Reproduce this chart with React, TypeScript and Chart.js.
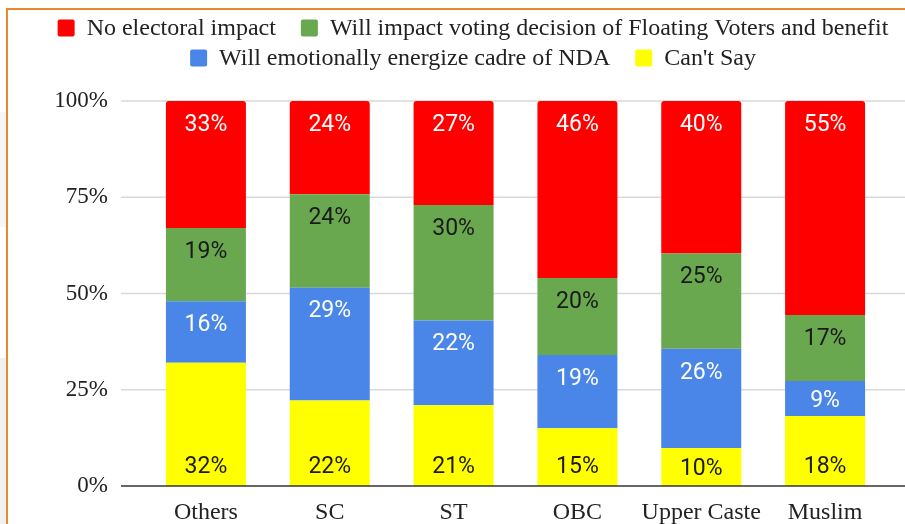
import React, { useEffect, useRef } from "react";
import { Chart, registerables } from "chart.js";
Chart.register(...registerables);

const categories = ["Others", "SC", "ST", "OBC", "Upper Caste", "Muslim"];
const cantSay = [32, 22, 21, 15, 10, 18];
const energize = [16, 29, 22, 19, 26, 9];
const impactVoting = [19, 24, 30, 20, 25, 17];
const noImpact = [33, 24, 27, 46, 40, 55];
const yTicks = [0, 25, 50, 75, 100];

const seriesNames = [
  "Can't Say",
  "Will emotionally energize cadre of NDA",
  "Will impact voting decision of Floating Voters and benefit",
  "No electoral impact",
];
const seriesValues = [cantSay, energize, impactVoting, noImpact];
const seriesColors = ["#ffff00", "#4a86e8", "#6aa84f", "#ff0000"];
const labelColors = ["#1a1a1a", "#ffffff", "#1a1a1a", "#ffffff"];

const SERIF = '"Liberation Serif", "Times New Roman", serif';
const ORANGE = "#e8892e";

export default function App() {
  const ref = useRef<HTMLCanvasElement | null>(null);

  useEffect(() => {
    const canvas = ref.current;
    if (!canvas) return;
    const totals = categories.map((_, i) =>
      seriesValues.reduce((a, s) => a + s[i], 0)
    );

    const datasets = seriesNames.map((name, s) => ({
      label: name,
      data: categories.map((_, i) => (seriesValues[s][i] / totals[i]) * 100),
      backgroundColor: seriesColors[s],
      borderWidth: 0,
      borderRadius:
        s === 3
          ? { topLeft: 3, topRight: 3, bottomLeft: 0, bottomRight: 0 }
          : 0,
      barPercentage: 0.646,
      categoryPercentage: 1,
    }));

    const decorPlugin = {
      id: "decor",
      beforeDraw(chart: any) {
        const { ctx, width, height } = chart;
        ctx.save();
        ctx.fillStyle = "#ffffff";
        ctx.fillRect(0, 0, width, height);
        ctx.fillStyle = "#f0f0f2";
        ctx.fillRect(0, 358, 6, height - 358);
        ctx.fillStyle = "#f6f6f6";
        ctx.fillRect(0, 112, 6, 115);
        ctx.fillStyle = ORANGE;
        ctx.fillRect(6, 8, width - 6, 2);
        ctx.fillRect(6, 8, 2, height - 8);
        ctx.restore();
      },
      beforeDatasetsDraw(chart: any) {
        const { ctx, chartArea } = chart;
        const y = chart.scales.y;
        ctx.save();
        ctx.strokeStyle = "#d9d9d9";
        ctx.lineWidth = 1.5;
        yTicks.forEach((v) => {
          if (v === 0) return;
          const py = y.getPixelForValue(v);
          ctx.beginPath();
          ctx.moveTo(chartArea.left - 23, py);
          ctx.lineTo(chart.width, py);
          ctx.stroke();
        });
        ctx.restore();
      },
      afterDatasetsDraw(chart: any) {
        const { ctx, chartArea } = chart;
        const y = chart.scales.y;
        ctx.save();
        // baseline
        ctx.strokeStyle = "#333333";
        ctx.lineWidth = 1.5;
        const by = y.getPixelForValue(0);
        ctx.beginPath();
        ctx.moveTo(chartArea.left - 23, by);
        ctx.lineTo(chart.width, by);
        ctx.stroke();
        // data labels
        ctx.font = '23px Roboto, "Liberation Sans", sans-serif';
        ctx.textAlign = "center";
        ctx.textBaseline = "middle";
        seriesNames.forEach((_, s) => {
          const meta = chart.getDatasetMeta(s);
          meta.data.forEach((el: any, i: number) => {
            const top = Math.min(el.y, el.base);
            const bottom = Math.max(el.y, el.base);
            const h = bottom - top;
            const off = Math.min(21, h / 2);
            const py = s === 0 ? bottom - off + 2 : top + off + 3;
            ctx.fillStyle = labelColors[s];
            ctx.fillText(seriesValues[s][i] + "%", el.x, py);
          });
        });
        ctx.restore();
      },
      afterDraw(chart: any) {
        const { ctx } = chart;
        ctx.save();
        ctx.font = "24px " + SERIF;
        ctx.textBaseline = "middle";
        ctx.textAlign = "left";
        const box = 17;
        const gapText = 12;
        const gapItem = 25;
        const maxW = 870;
        const cx = 473;
        const order = [3, 2, 1, 0];
        const rows: { s: number; w: number }[][] = [[]];
        let rowW = 0;
        order.forEach((s) => {
          const w = box + gapText + ctx.measureText(seriesNames[s]).width;
          const cur = rows[rows.length - 1];
          const add = cur.length ? gapItem + w : w;
          if (cur.length && rowW + add > maxW) {
            rows.push([{ s, w }]);
            rowW = w;
          } else {
            cur.push({ s, w });
            rowW += add;
          }
        });
        rows.forEach((row, r) => {
          const total =
            row.reduce((a, it) => a + it.w, 0) + gapItem * (row.length - 1);
          let x = cx - total / 2;
          const cy = 28 + r * 30;
          row.forEach((it) => {
            ctx.fillStyle = seriesColors[it.s];
            ctx.beginPath();
            (ctx as any).roundRect
              ? (ctx as any).roundRect(x, cy - box / 2, box, box, 2)
              : ctx.rect(x, cy - box / 2, box, box);
            ctx.fill();
            ctx.fillStyle = "#222222";
            ctx.fillText(seriesNames[it.s], x + box + gapText, cy + 1);
            x += it.w + gapItem;
          });
        });
        ctx.restore();
      },
    };

    const chart = new Chart(canvas, {
      type: "bar",
      data: { labels: categories, datasets: datasets as any },
      options: {
        responsive: false,
        animation: false,
        devicePixelRatio: 1,
        layout: { padding: { top: 101, right: 18, left: 0, bottom: 0 } },
        plugins: {
          legend: { display: false },
          tooltip: { enabled: false },
        },
        scales: {
          x: {
            stacked: true,
            grid: { display: false, drawTicks: false },
            border: { display: false },
            ticks: {
              font: { family: SERIF, size: 24 },
              color: "#222222",
              padding: 12,
              maxRotation: 0,
              autoSkip: false,
            },
            afterFit: (s: any) => {
              s.height = 38;
            },
          },
          y: {
            stacked: true,
            min: 0,
            max: 100,
            grid: { display: false, drawTicks: false },
            border: { display: false },
            ticks: {
              stepSize: 25,
              font: { family: SERIF, size: 23 },
              color: "#222222",
              padding: 36,
              callback: (v: any) => v + "%",
            },
            afterFit: (s: any) => {
              s.width = 144;
              s.paddingTop = 0;
              s.paddingBottom = 0;
            },
          },
        },
      },
      plugins: [decorPlugin],
    });
    return () => chart.destroy();
  }, []);

  return (
    <div style={{ position: "absolute", left: 0, top: 0, width: 905, height: 524 }}>
      <canvas ref={ref} width={905} height={524} style={{ display: "block" }} />
    </div>
  );
}
